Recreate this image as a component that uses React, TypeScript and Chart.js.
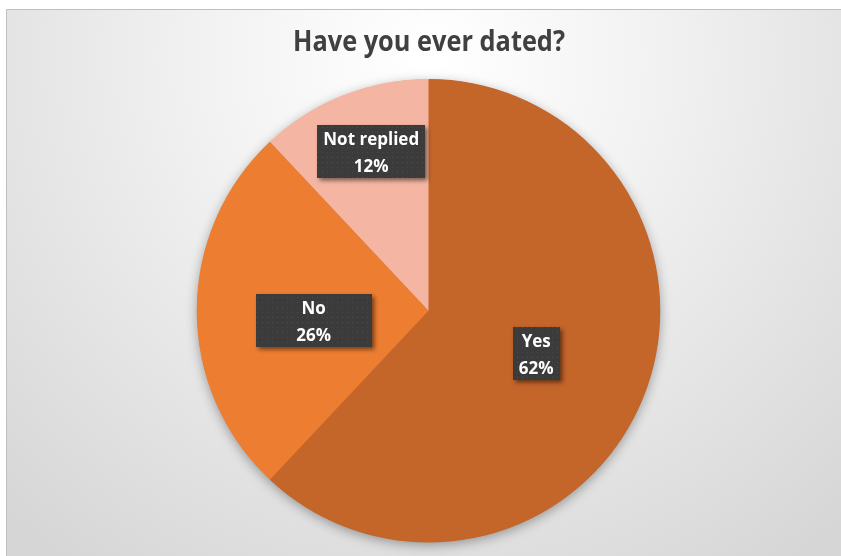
import React, { useEffect, useRef } from "react";
import { Chart, registerables } from "chart.js";

Chart.register(...registerables);

// ---- data ----
const categories: string[] = ["Yes", "No", "Not replied"];
const percentages: number[] = [62, 26, 12];
const chartTitle = "Have you ever dated?";

// ---- styles ----
const sliceColors: string[] = ["#C4652A", "#ED7D31", "#F4B6A2"];
const labelPlacement = [
  { frac: 0.5, dx: 0, dy: 0, w: 47 },
  { frac: 0.5, dx: 1, dy: 10, w: 116 },
  { frac: 0.73, dx: 5, dy: -2, w: 108 },
];

function makePattern(ctx: CanvasRenderingContext2D): CanvasPattern | string {
  const c = document.createElement("canvas");
  c.width = 5;
  c.height = 5;
  const p = c.getContext("2d");
  if (!p) return "#3d3d3d";
  p.fillStyle = "#3b3b3b";
  p.fillRect(0, 0, 5, 5);
  p.fillStyle = "#4c4c4c";
  p.fillRect(2, 2, 1, 1);
  return ctx.createPattern(c, "repeat") || "#3d3d3d";
}

const backgroundPlugin = {
  id: "bgPlugin",
  beforeDraw(chart: any) {
    const { ctx, width, height } = chart;
    ctx.save();
    ctx.fillStyle = "#ffffff";
    ctx.fillRect(0, 0, width, height);
    const g = ctx.createRadialGradient(429, 60, 10, 429, 60, 620);
    g.addColorStop(0, "#ffffff");
    g.addColorStop(0.35, "#f2f2f2");
    g.addColorStop(1, "#d6d6d6");
    ctx.fillStyle = g;
    ctx.fillRect(6, 9, width - 6, height - 9);
    ctx.strokeStyle = "#bfbfbf";
    ctx.lineWidth = 1;
    ctx.beginPath();
    ctx.moveTo(6.5, height);
    ctx.lineTo(6.5, 9.5);
    ctx.lineTo(width, 9.5);
    ctx.stroke();
    // title
    ctx.font = 'bold 28px "Open Sans"';
    ctx.fillStyle = "#404040";
    ctx.textBaseline = "alphabetic";
    ctx.textAlign = "center";
    const tw = ctx.measureText(chartTitle).width;
    const sx = 272 / tw;
    ctx.translate(429, 51);
    ctx.scale(sx, 1);
    ctx.fillText(chartTitle, 0, 0);
    ctx.restore();
  },
  beforeDatasetsDraw(chart: any) {
    const meta = chart.getDatasetMeta(0);
    const arc = meta.data[0];
    if (!arc) return;
    const { ctx } = chart;
    ctx.save();
    ctx.shadowColor = "rgba(0,0,0,0.35)";
    ctx.shadowBlur = 12;
    ctx.shadowOffsetY = 3;
    ctx.fillStyle = sliceColors[0];
    ctx.beginPath();
    ctx.arc(arc.x, arc.y, arc.outerRadius - 0.5, 0, Math.PI * 2);
    ctx.fill();
    ctx.restore();
  },
};

const labelPlugin = {
  id: "labelPlugin",
  afterDatasetsDraw(chart: any) {
    const { ctx } = chart;
    const meta = chart.getDatasetMeta(0);
    const pattern = makePattern(ctx);
    meta.data.forEach((arc: any, i: number) => {
      const pl = labelPlacement[i];
      const mid = (arc.startAngle + arc.endAngle) / 2;
      const r = arc.outerRadius * pl.frac;
      const cx = arc.x + Math.cos(mid) * r + pl.dx;
      const cy = arc.y + Math.sin(mid) * r + pl.dy;
      const w = pl.w;
      const h = 53;
      const left = Math.round(cx - w / 2);
      const top = Math.round(cy - h / 2);
      ctx.save();
      ctx.shadowColor = "rgba(0,0,0,0.5)";
      ctx.shadowBlur = 4;
      ctx.shadowOffsetX = 2.5;
      ctx.shadowOffsetY = 2.5;
      ctx.fillStyle = pattern;
      ctx.fillRect(left, top, w, h);
      ctx.restore();
      ctx.save();
      ctx.font = 'bold 17px "Open Sans"';
      ctx.fillStyle = "#ffffff";
      ctx.textAlign = "center";
      ctx.textBaseline = "alphabetic";
      ctx.fillText(categories[i], cx, top + 20);
      ctx.fillText(percentages[i] + "%", cx, top + 46.5);
      ctx.restore();
    });
  },
};

export default function App() {
  const ref = useRef<HTMLCanvasElement | null>(null);
  useEffect(() => {
    if (!ref.current) return;
    const chart = new Chart(ref.current, {
      type: "pie",
      data: {
        labels: categories,
        datasets: [
          {
            data: percentages,
            backgroundColor: sliceColors,
            borderWidth: 0,
            hoverOffset: 0,
          },
        ],
      },
      options: {
        responsive: false,
        animation: false,
        devicePixelRatio: 1,
        events: [],
        layout: { padding: { top: 79, bottom: 13.5, left: 16, right: 0 } },
        plugins: {
          legend: { display: false },
          title: { display: false },
          tooltip: { enabled: false },
        },
      },
      plugins: [backgroundPlugin, labelPlugin],
    });
    return () => chart.destroy();
  }, []);
  return (
    <div style={{ position: "absolute", left: 0, top: 0, width: 841, height: 556 }}>
      <canvas ref={ref} width={841} height={556} style={{ display: "block" }} />
    </div>
  );
}
